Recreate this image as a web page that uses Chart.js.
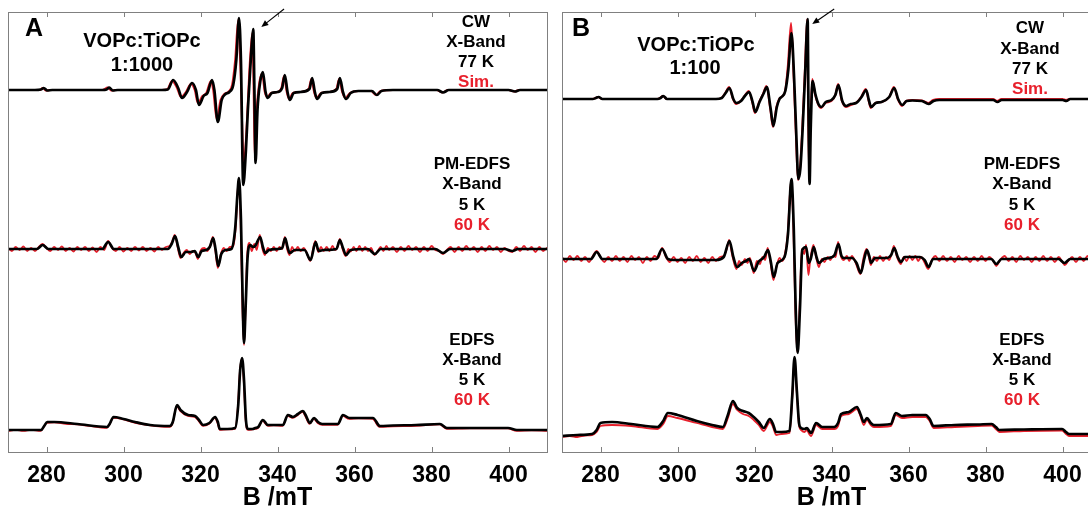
<!DOCTYPE html>
<html><head><meta charset="utf-8">
<script src="https://cdn.jsdelivr.net/npm/chart.js@4.4.1/dist/chart.umd.min.js"></script>
<style>
html,body{margin:0;padding:0;background:#fff;overflow:hidden;width:1088px;height:514px}
canvas{position:absolute;top:0}
#cA{left:0}
#cB{left:554px}
</style></head><body>
<canvas id="cA" width="555" height="514"></canvas>
<canvas id="cB" width="555" height="514"></canvas>
<script>
// ---- axis ----
const B_TICKS = [280, 300, 320, 340, 360, 380, 400];
const B_MIN = 270, B_MAX = 410;
const X_TITLE = 'B /mT';

// ---- trace baselines (arbitrary units) ----
const OFF_CW_A = 362, OFF_PM_A = 203, OFF_ED_A = 22;
const OFF_CW_B = 353, OFF_PM_B = 193, OFF_ED_B = 16;

// ---- Panel A, VOPc:TiOPc 1:1000 ----  [B (mT), signal]
const cwA_black = [[270,0],[277,0],[278.5,0.5],[279.3,2],[280.2,-0.5],[281.5,0],[294.5,0],[295.6,0.5],[296.3,2.5],[297.2,-0.5],[298.5,0],[310,0],[311.5,0.5],[312.9,10],[314.2,2],[315.2,-8],[316.5,-2],[317.8,7],[318.8,0],[319.6,-15],[320.8,-6],[321.8,-3],[323.0,10],[323.6,0],[324.5,-32],[325.5,-10],[326.5,-4],[327.5,-2],[328.5,5],[329.3,30],[330.0,72],[330.5,30],[331.1,-95],[331.8,-60],[332.3,-20],[332.9,20],[333.4,50],[333.7,61],[334.0,0],[334.3,-73],[334.8,-20],[335.5,8],[336.2,18],[336.9,-2],[337.5,-8],[338.5,-3],[340,-2],[341.2,2],[341.9,15],[342.6,-2],[343.2,-10],[344.2,-3],[346,-2],[348.3,1],[349.0,12],[349.7,-2],[350.3,-9],[351.5,-3],[353.5,-2],[355.5,1],[356.2,12],[357.0,-2],[357.8,-9],[359,-3],[361,-1],[364.5,-1],[365.8,-5],[367,-1],[370,0],[381.5,0],[383,-2.5],[384.5,0],[400,0],[401.7,-1.5],[403,0],[410,0]];
const cwA_red = [[270,0],[278.3,0],[279.0,2],[279.9,-0.5],[281,0],[294.5,0],[295.9,2.5],[296.9,-0.5],[298,0],[310,0],[311.3,0.5],[312.6,9],[313.9,2],[314.9,-7],[316.2,-2],[317.5,6],[318.5,0],[319.3,-13],[320.5,-6],[321.5,-3],[322.7,9],[323.3,0],[324.2,-29],[325.2,-10],[326.2,-4],[327.2,-2],[328.2,5],[329.0,30],[329.8,70],[330.3,30],[331.3,-73],[331.8,-50],[332.2,-20],[332.7,20],[333.2,48],[333.5,57],[333.8,0],[334.1,-68],[334.6,-20],[335.3,8],[336.0,16],[336.7,-2],[337.3,-7],[338.3,-3],[340,-2],[341,2],[341.7,14],[342.4,-2],[343,-9],[344,-3],[346,-2],[348.1,1],[348.8,11],[349.5,-2],[350.1,-8],[351.3,-3],[353.3,-2],[355.3,1],[356.0,11],[356.8,-2],[357.6,-8],[358.8,-3],[361,-1],[364.3,-1],[365.6,-5],[366.8,-1],[370,0],[381.3,0],[382.8,-2.5],[384.3,0],[400,0],[401.5,-1.5],[402.8,0],[410,0]];
const pmA_black = [[270,0],[277.5,0],[279,4],[280.5,0],[294.5,0],[296,7],[297.5,0],[299,0],[311.5,0],[312.5,5],[313.4,13],[314.2,2],[315.0,-8],[316.2,-3],[317.5,-3],[318.5,-2],[319.4,-8],[320.3,-2],[321.5,-1],[322.4,2],[323.3,11],[323.9,0],[324.6,-17],[325.4,-5],[326.5,-1],[328,0],[329,20],[329.6,55],[330.0,71],[330.5,30],[331.0,-60],[331.3,-94],[331.7,-60],[332.2,-10],[332.9,4],[333.6,2],[334.2,3],[335.5,12],[336.2,2],[336.8,-4],[337.8,-1],[340,0],[341.2,1],[342,11],[342.6,2],[343.2,-4],[344.5,-1],[347,-1],[348.6,-11],[349.9,7],[350.7,-2],[352,-1],[355.3,0],[356.2,9],[357,1],[357.8,-6],[359,-1],[363.5,0],[365.3,-5],[366.8,0],[381,0],[383,-4],[384.8,0],[399,0],[401,-2],[402.5,0],[410,0]];
const pmA_red = [[270,1],[271,-2],[272,2],[273,-1],[274,2.5],[275,-2],[276,1],[277,-2],[278,2],[279,5],[280,1],[281,-2],[282,2],[283,-1],[284,2.5],[285,-2],[286,1],[287,-2.5],[288,2],[289,-1],[290,2],[291,-2],[292,1.5],[293,-3],[294,2],[295,-1],[296,8],[297,1],[298,-2],[299,2],[300,-2.5],[301,1],[302,-2],[303,2],[304,-1.5],[305,2],[306,-2],[307,1],[308,-2.5],[309,2],[310,-1],[311,2],[312,3],[312.7,8],[313.3,14],[314,3],[314.8,-9],[315.6,-4],[316.4,-1],[317.2,-5],[318,-2],[318.7,-4],[319.3,-10],[320.1,-1],[321,1],[321.8,-2],[322.5,3],[323.2,12],[323.8,0],[324.5,-19],[325.3,-5],[326,1],[326.8,-2],[327.6,2],[328.5,3],[329.2,25],[329.6,55],[329.9,68],[330.4,30],[330.9,-60],[331.3,-96],[331.7,-60],[332.1,-8],[332.7,6],[333.3,-2],[334,5],[334.6,-1],[335.4,14],[336.1,0],[336.7,-6],[337.5,1],[338.3,-2],[339,2],[339.8,-2],[340.5,2],[341.2,0],[341.9,12],[342.5,0],[343.1,-6],[343.8,2],[344.5,-2],[345.3,2],[346,-2],[346.8,1],[347.5,-3],[348.5,-12],[349.8,8],[350.6,-3],[351.3,2],[352,-2],[352.8,2],[353.5,-2],[354.3,3],[355,-1],[355.6,2],[356.2,10],[356.9,0],[357.7,-7],[358.4,0],[359,-2.5],[359.8,2],[360.5,-2],[361.3,3],[362,-2],[362.8,2],[363.5,-2],[364.3,1],[365.2,-6],[366,-2],[366.8,2],[367.5,-2],[368.3,3],[369,-1],[370,2],[371,-3],[372,2],[373,-2],[374,3],[375,-1],[376,2],[377,-3],[378,2],[379,-2],[380,3],[381,-1],[382,-2],[383,-5],[384,-1],[385,2],[386,-3],[387,2],[388,-2],[389,3],[390,-1],[391,2],[392,-3],[393,2],[394,-2],[395,3],[396,-1],[397,2],[398,-3],[399,1],[400,-2],[401,-3],[402,2],[403,-2],[404,3],[405,-1],[406,2],[407,-3],[408,2],[409,-2],[410,1]];
const edA_black = [[270,0],[278.6,0],[279.4,4],[280.2,8],[282,8],[288,6],[295.7,3],[296.4,6],[297.4,13],[300,11],[303,8],[306.9,5],[312,4],[312.8,8],[313.9,25],[314.8,20],[316.8,15],[318.6,14],[319.6,10],[320.7,5],[322.3,7],[323.8,13],[324.5,8],[325,1],[327,1],[329,2],[329.8,25],[330.3,60],[330.8,72],[331.3,50],[331.8,10],[332.4,1],[333.5,1],[334.2,2],[335.0,3],[336.2,10],[337.5,5],[339,5],[341.4,5],[342.7,15],[344,13],[345.3,16],[346.6,19],[347.3,15],[348.4,7],[349.5,12],[350.5,8],[351.6,6],[355.7,6],[357,15],[358.7,12],[361,12],[364.8,12],[366.6,4],[370,4.5],[376,5],[382.2,6],[384,2],[390,2],[399.9,2],[402.2,0],[410,0]];
const edA_red = [[270,-1],[272,0],[274,-1],[276,0],[278.5,-1],[279.3,3],[280.1,7],[282,7.5],[285,6],[288,5.5],[291,4],[295.6,2],[296.3,5],[297.3,12],[300,10.5],[303,7],[306.9,4.5],[312,3],[312.8,7],[313.8,24],[314.7,19],[316.7,14],[318.5,13],[319.5,9],[320.6,4],[322.2,6],[323.7,12],[324.4,7],[325,0],[327,0.5],[329,1],[329.7,24],[330.2,58],[330.7,71],[331.2,50],[331.7,10],[332.3,0],[333.5,0.5],[334.2,1],[335,2],[336.1,9],[337.5,4],[339,4.5],[341.3,4],[342.6,14],[344,12],[345.3,15],[346.5,18],[347.2,14],[348.3,6],[349.4,11],[350.4,7],[351.6,5],[355.6,5],[356.9,14],[358.6,11],[361,11.5],[364.7,11],[366.5,3],[370,3.5],[376,4],[382.1,5.5],[383.9,1],[390,1.5],[399.8,1.5],[402.1,-1],[406,-0.5],[410,-1]];

// ---- Panel B, VOPc:TiOPc 1:100 ----
const cwB_black = [[270,0],[278,0],[278.8,1],[279.5,2],[280.5,0],[282,0],[294.8,0],[295.6,1],[296.3,3],[297.3,0],[299,0],[310,0],[311.5,1],[312.5,6],[313.5,11],[314.5,0],[315.3,-4],[316.5,-2],[317.5,3],[318.6,7],[319.5,-3],[320.2,-13],[321.3,-3],[322.3,5],[323.2,12],[324.2,-10],[324.9,-27],[325.8,-8],[326.5,0],[327,2],[328,8],[328.8,30],[329.6,66],[330.3,20],[330.8,-30],[331.4,-80],[331.9,-70],[332.5,-30],[333.2,30],[333.8,80],[334.0,0],[334.3,-85],[334.6,-30],[335.1,18],[335.8,5],[336.6,-5],[337.4,-8],[338.5,-3],[340,-1],[341,4],[341.8,14],[342.8,-2],[343.8,-7],[345,-5],[346.4,-4],[347.8,2],[349,9],[349.7,-1],[350.3,-8],[351.5,-4],[353,-3],[355,2],[356.3,11],[357.3,0],[358.4,-6],[359.5,-2],[361,-1.5],[363.5,-2],[365.2,-5],[366.5,-2],[368,-1],[370,-1],[382,-1],[383.1,-3],[384.2,-1],[400,-1],[401,-2],[402,0],[410,0]];
const cwB_red = [[270,0],[278,0],[278.7,1],[279.4,2],[280.4,0],[282,0],[294.7,0],[295.5,1],[296.2,3],[297.2,0],[299,0],[310,0],[311.4,1],[312.4,6],[313.4,12],[314.4,0],[315.2,-5],[316.4,-2],[317.4,3],[318.5,8],[319.4,-3],[320.1,-14],[321.2,-3],[322.2,5],[323.1,13],[324.1,-10],[324.8,-28],[325.7,-8],[326.4,0],[327,2],[328,9],[328.7,35],[329.5,76],[330.2,20],[330.7,-30],[331.3,-81],[331.8,-70],[332.4,-30],[333.1,30],[333.7,80],[333.9,0],[334.2,-76],[334.5,-30],[335.0,20],[335.7,5],[336.5,-5],[337.3,-9],[338.4,-4],[340,-2],[341,4],[341.7,15],[342.7,-2],[343.7,-8],[345,-6],[346.3,-4],[347.7,2],[348.9,10],[349.6,-1],[350.2,-9],[351.4,-4],[353,-3],[355,2],[356.2,12],[357.2,0],[358.3,-7],[359.4,-2],[361,-1],[363.5,-1.5],[365.1,-4],[366.4,-1],[368,0],[370,0],[382,0],[383,-2],[384.1,0],[400,0],[400.9,-1],[402,0],[410,0]];
const pmB_black = [[270,0],[277.5,0],[279,7],[280.5,0],[294.5,0],[296,10],[297.5,0],[299,-1],[310,-1],[312,2],[313.5,18],[314.5,2],[315.5,-8],[316.7,-4],[317.8,-2],[318.6,0],[319.9,-12],[321,-3],[322.5,2],[323.5,9],[324.2,-2],[325,-18],[326,-4],[327.8,2],[328.7,25],[329.6,80],[330.2,30],[330.7,-50],[331.2,-94],[331.8,-50],[332.4,9],[333.4,12],[334.1,-4],[334.6,0],[335.4,12],[336.1,2],[336.7,-4],[338,0],[339.3,1],[340.8,4],[341.8,15],[342.6,3],[343.3,1],[345.3,1],[346.5,-4],[347.6,-14],[348.5,0],[349.2,9],[349.8,3],[350.3,-4],[351.3,1],[354.5,1],[355.5,4],[356.3,11],[357.2,2],[358.1,-3],[359,2],[363,2],[364.2,-1],[365.2,-8],[366.4,0],[370,0],[381.5,0],[382.8,-5],[384.2,0],[399,0],[400.5,-4],[402,0],[410,0]];
const pmB_red = [[270,2],[271,-3],[272,3],[273,-1],[274,3],[275,-2],[276,2],[277,-3],[278,3],[279,8],[280,2],[281,-3],[282,2],[283,-2],[284,3],[285,-2],[286,2],[287,-3],[288,3],[289,-1],[290,2],[291,-4],[292,2],[293,-2],[294,3],[295,1],[296,11],[297,2],[298,-3],[299,2],[300,-3],[301,1],[302,-4],[303,2],[304,-2],[305,3],[306,-3],[307,1],[308,-4],[309,2],[310,-2],[311,2],[312,3],[312.8,10],[313.4,19],[314.2,4],[315.3,-10],[316,-2],[316.7,-6],[317.5,0],[318.2,-4],[318.8,1],[319.8,-14],[320.6,-2],[321.4,-5],[322.1,2],[322.8,-1],[323.4,11],[324.1,-2],[324.9,-21],[325.8,-6],[326.5,1],[327.2,-2],[327.8,3],[328.6,24],[329.5,78],[330.1,30],[330.6,-50],[331.1,-93],[331.7,-50],[332.3,10],[332.9,5],[333.4,14],[334.0,-16],[334.5,0],[335.3,14],[336,2],[336.7,-8],[337.5,0],[338.2,-3],[339,2],[339.7,-1],[340.4,3],[341.1,2],[341.7,17],[342.5,2],[343.2,-1],[344,3],[344.6,-2],[345.3,3],[346.2,-3],[347.5,-15],[348.3,1],[349.1,10],[349.7,2],[350.2,-6],[351,2],[351.8,-2],[352.6,3],[353.4,-2],[354.2,2],[355,-1],[355.6,5],[356.2,13],[357,2],[358,-5],[358.8,2],[359.5,-2],[360.3,3],[361,-1],[361.8,3],[362.5,-2],[363.3,2],[364.1,-3],[365.1,-10],[366.2,0],[367,3],[368,-2],[369,3],[370,-2],[371,2],[372,-3],[373,3],[374,-1],[375,2],[376,-3],[377,2],[378,-2],[379,3],[380,-2],[381,2],[382,-2],[382.8,-7],[383.8,-1],[385,3],[386,-2],[387,2],[388,-3],[389,3],[390,-1],[391,2],[392,-3],[393,2],[394,-2],[395,3],[396,-2],[397,2],[398,-3],[399,2],[400,-3],[400.6,-6],[401.5,-2],[402.5,2],[403.5,-3],[404.5,2],[405.5,-2],[406.5,3],[407.5,-2],[408.5,2],[409.5,-3],[410,1]];
const edB_black = [[270,0],[274,1],[277.8,2],[279,6],[280,13],[283,14],[288,12],[294.8,9],[296.3,15],[297.5,23],[300,21],[305,15],[309,11],[311.8,9],[313,20],[314.4,35],[315.5,28],[317,25],[318.5,23],[319.8,19],[321.1,14],[322.4,8],[324.0,17],[324.8,12],[325.6,4],[327,4],[329.1,5],[329.8,40],[330.4,79],[331,45],[331.6,12],[332.1,8],[333.0,7],[333.6,8],[334.2,5],[334.7,3],[336,13],[337.6,9],[340.7,9],[341.7,13],[342.5,22],[344.5,24],[346.6,29],[347.5,22],[348.4,14],[349.2,18],[350.2,13],[351,11],[355.4,12],[356.7,23],[358.3,20],[361,21],[364.5,21],[365.5,17],[366.5,10],[372,11],[378,11.5],[381.6,12],[382.7,9],[383.6,6],[390,6.5],[399.9,7],[400.9,4],[401.7,2],[405,2],[410,2]];
const edB_red = [[270,-1],[272,0],[274,-1],[276,0.5],[277.8,1],[279,4],[280,10],[283,11],[288,10],[294.8,7],[296.3,12],[297.5,20],[300,18],[305,13],[309,9],[311.8,7],[313,17],[314.4,32],[315.5,26],[317,22],[318.5,20],[319.8,16],[321.1,11],[322.4,5],[324,14],[324.8,9],[325.6,1],[327,2],[329.1,3],[329.8,38],[330.4,77],[331,43],[331.6,10],[332.1,6],[333,4],[333.6,6],[334.2,2],[334.7,0],[336,11],[337.6,7],[340.7,7],[341.7,10],[342.5,20],[344.5,22],[346.6,27],[347.5,20],[348.4,11],[349.2,16],[350.2,11],[351,9],[355.4,10],[356.7,21],[358.3,18],[361,19],[364.5,19],[365.5,15],[366.5,8],[372,9],[378,10],[381.6,10.5],[382.7,7],[383.6,4],[390,5],[399.9,5.5],[400.9,2],[401.7,0],[405,0],[410,0]];

// ---- styling ----
const RED = '#e8202c';
const FONT = "'Liberation Sans', Arial, Helvetica, sans-serif";
Chart.defaults.font.family = FONT;

const framePlugin = {
  id: 'frame',
  afterDraw(chart) {
    const {ctx, chartArea: a, scales: {x}} = chart;
    ctx.save();
    ctx.strokeStyle = '#808080';
    ctx.lineWidth = 1;
    ctx.strokeRect(Math.round(a.left) + 0.5, Math.round(a.top) + 0.5, Math.round(a.right - a.left), Math.round(a.bottom - a.top));
    ctx.beginPath();
    B_TICKS.forEach(v => {
      const px = Math.round(x.getPixelForValue(v)) + 0.5;
      ctx.moveTo(px, a.bottom); ctx.lineTo(px, a.bottom - 5);
      ctx.moveTo(px, a.top); ctx.lineTo(px, a.top + 5);
    });
    ctx.stroke();
    ctx.restore();
  }
};

function annotPlugin(texts, arrow) {
  return {
    id: 'annot',
    afterDraw(chart) {
      const {ctx, scales: {x, y}} = chart;
      ctx.save();
      ctx.textAlign = 'center';
      ctx.textBaseline = 'middle';
      texts.forEach(t => {
        ctx.font = 'bold ' + t.size + 'px ' + FONT;
        ctx.fillStyle = t.color || '#000';
        ctx.fillText(t.text, t.x, t.y);
      });
      // arrow
      const x0 = x.getPixelForValue(arrow.from[0]), y0 = y.getPixelForValue(arrow.from[1]);
      const x1 = x.getPixelForValue(arrow.to[0]), y1 = y.getPixelForValue(arrow.to[1]);
      const ang = Math.atan2(y1 - y0, x1 - x0);
      ctx.strokeStyle = '#000'; ctx.fillStyle = '#000'; ctx.lineWidth = 1.1;
      ctx.beginPath(); ctx.moveTo(x0, y0); ctx.lineTo(x1 - 5 * Math.cos(ang), y1 - 5 * Math.sin(ang)); ctx.stroke();
      ctx.beginPath();
      ctx.moveTo(x1, y1);
      ctx.lineTo(x1 - 7 * Math.cos(ang) + 3 * Math.sin(ang), y1 - 7 * Math.sin(ang) - 3 * Math.cos(ang));
      ctx.lineTo(x1 - 7 * Math.cos(ang) - 3 * Math.sin(ang), y1 - 7 * Math.sin(ang) + 3 * Math.cos(ang));
      ctx.closePath(); ctx.fill();
      ctx.restore();
    }
  };
}

function toPts(arr, off) { return arr.map(p => ({x: p[0], y: p[1] + off})); }

function makeChart(id, traces, texts, arrow) {
  const datasets = [];
  traces.forEach(t => datasets.push({data: toPts(t.black, t.off), borderColor: '#000', borderWidth: 2.7, order: 0}));
  traces.forEach(t => datasets.push({data: toPts(t.red, t.off), borderColor: RED, borderWidth: t.rw, order: 1}));
  return new Chart(document.getElementById(id), {
    type: 'line',
    data: {datasets},
    options: {
      responsive: false, animation: false, events: [],
      layout: {padding: {left: 8, right: 8, top: 12, bottom: 0}},
      plugins: {legend: {display: false}, tooltip: {enabled: false}},
      elements: {point: {radius: 0}, line: {cubicInterpolationMode: 'monotone', borderJoinStyle: 'round', borderCapStyle: 'round', fill: false}},
      scales: {
        x: {
          type: 'linear', min: B_MIN, max: B_MAX,
          afterBuildTicks: s => { s.ticks = B_TICKS.map(v => ({value: v})); },
          afterFit: s => { s.height = 62; },
          grid: {display: false, drawTicks: false},
          border: {display: false},
          ticks: {padding: 10, color: '#000', autoSkip: false, maxRotation: 0, font: {size: 23, weight: 'bold', family: FONT}},
          title: {display: true, text: X_TITLE, color: '#000', font: {size: 25, weight: 'bold', family: FONT}, padding: {top: 0, bottom: 1}}
        },
        y: {display: false, min: 0, max: 440}
      }
    },
    plugins: [framePlugin, annotPlugin(texts, arrow)]
  });
}

makeChart('cA', [
  {black: cwA_black, red: cwA_red, off: OFF_CW_A, rw: 2},
  {black: pmA_black, red: pmA_red, off: OFF_PM_A, rw: 1.8},
  {black: edA_black, red: edA_red, off: OFF_ED_A, rw: 1.6}
], [
  {text: 'A', x: 34, y: 29, size: 25},
  {text: 'VOPc:TiOPc', x: 142, y: 41, size: 20},
  {text: '1:1000', x: 142, y: 65, size: 20},
  {text: 'CW', x: 476, y: 22, size: 17},
  {text: 'X-Band', x: 476, y: 42, size: 17},
  {text: '77 K', x: 476, y: 62, size: 17},
  {text: 'Sim.', x: 476, y: 82, size: 17, color: RED},
  {text: 'PM-EDFS', x: 472, y: 164, size: 17},
  {text: 'X-Band', x: 472, y: 184, size: 17},
  {text: '5 K', x: 472, y: 205, size: 17},
  {text: '60 K', x: 472, y: 225, size: 17, color: RED},
  {text: 'EDFS', x: 472, y: 340, size: 17},
  {text: 'X-Band', x: 472, y: 360, size: 17},
  {text: '5 K', x: 472, y: 380, size: 17},
  {text: '60 K', x: 472, y: 400, size: 17, color: RED}
], {from: [341.7, 443], to: [335.8, 425]});

makeChart('cB', [
  {black: cwB_black, red: cwB_red, off: OFF_CW_B, rw: 2},
  {black: pmB_black, red: pmB_red, off: OFF_PM_B, rw: 1.8},
  {black: edB_black, red: edB_red, off: OFF_ED_B, rw: 1.8}
], [
  {text: 'B', x: 27, y: 29, size: 25},
  {text: 'VOPc:TiOPc', x: 142, y: 45, size: 20},
  {text: '1:100', x: 141, y: 68, size: 20},
  {text: 'CW', x: 476, y: 28, size: 17},
  {text: 'X-Band', x: 476, y: 49, size: 17},
  {text: '77 K', x: 476, y: 69, size: 17},
  {text: 'Sim.', x: 476, y: 89, size: 17, color: RED},
  {text: 'PM-EDFS', x: 468, y: 164, size: 17},
  {text: 'X-Band', x: 468, y: 184, size: 17},
  {text: '5 K', x: 468, y: 205, size: 17},
  {text: '60 K', x: 468, y: 225, size: 17, color: RED},
  {text: 'EDFS', x: 468, y: 340, size: 17},
  {text: 'X-Band', x: 468, y: 360, size: 17},
  {text: '5 K', x: 468, y: 380, size: 17},
  {text: '60 K', x: 468, y: 400, size: 17, color: RED}
], {from: [340.7, 443], to: [335.0, 428]});
</script>
</body></html>
